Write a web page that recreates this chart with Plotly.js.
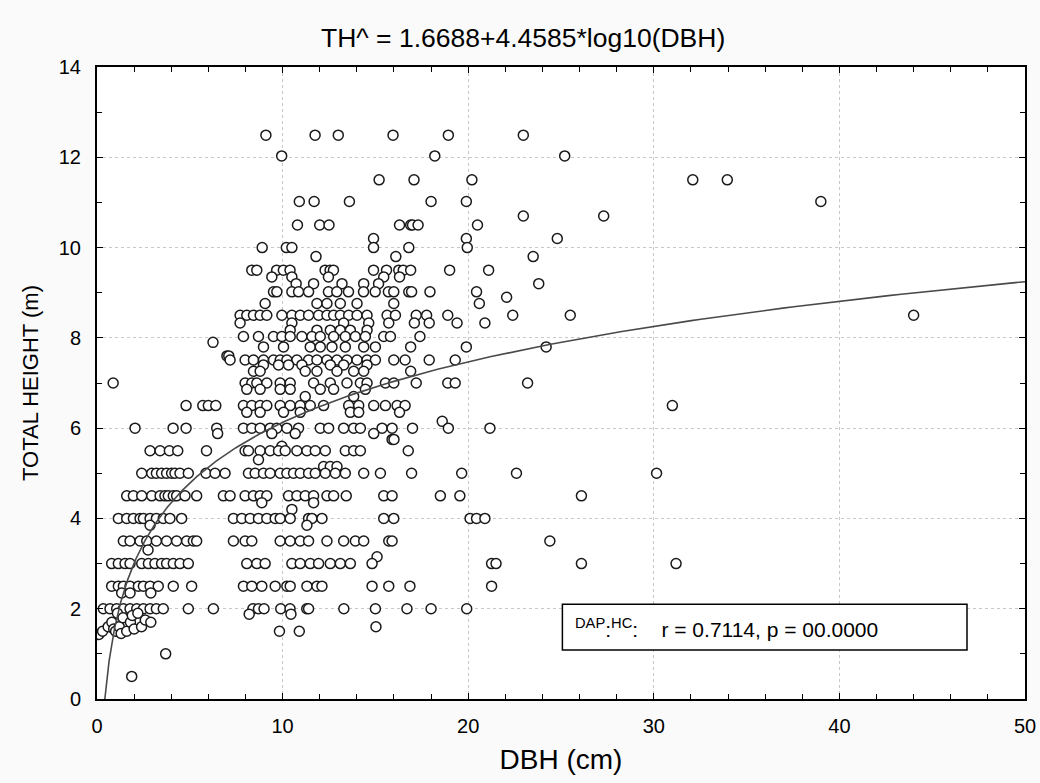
<!DOCTYPE html>
<html>
<head>
<meta charset="utf-8">
<script src="https://cdn.plot.ly/plotly-3.0.1.min.js"></script>
<style>
  html, body { margin: 0; padding: 0; background: #fafafa; }
  #chart { width: 1040px; height: 783px; }
</style>
</head>
<body>
<div id="chart"></div>
<script>
// ---- Data (DBH in cm, total height in m) ----
const heightLevels = [
  12.49, 12.03, 11.5, 11.02, 10.7, 10.5, 10.2, 10.0, 9.8, 9.5, 9.35, 9.2, 9.02, 8.9, 8.76,
  8.5, 8.33, 8.17, 8.03, 7.9, 7.8, 7.6, 7.51, 7.4, 7.26, 7.0, 6.86, 6.7, 6.5, 6.35, 6.15,
  6.0, 5.88, 5.75, 5.6, 5.5, 5.3, 5.15, 5.0, 4.5, 4.35, 4.2, 4.0, 3.85, 3.5, 3.3, 3.15,
  3.0, 2.5, 2.35, 2.0, 1.88, 1.6, 1.5, 1.0, 0.5
];
const dbhAtLevel = [
  [9.1, 11.75, 13.0, 15.95, 18.93, 22.97],
  [9.95, 18.2, 25.2],
  [15.2, 17.08, 20.2, 32.1, 33.96],
  [10.9, 11.7, 13.6, 18.0, 19.9, 39.0],
  [22.97, 27.3],
  [10.8, 12.0, 12.5, 16.3, 16.9, 17.0, 17.3, 20.5],
  [14.9, 19.9, 24.8],
  [8.9, 10.2, 10.5, 14.9, 16.8, 19.95],
  [11.8, 16.1, 23.5],
  [8.34, 8.61, 9.68, 10.04, 10.4, 12.29, 12.56, 12.74, 14.9, 15.6, 16.26, 16.5, 16.9, 19.0, 21.1],
  [9.42, 10.5, 12.47, 15.45, 16.3],
  [10.73, 11.67, 13.2, 14.37, 15.17, 23.8],
  [9.51, 9.69, 10.5, 10.86, 11.4, 12.47, 12.92, 13.55, 14.36, 14.99, 15.7, 15.99, 16.8, 16.95, 17.94, 20.45],
  [22.07],
  [9.06, 11.85, 12.39, 13.11, 14.01, 15.99, 20.6],
  [7.71, 8.07, 8.43, 8.79, 9.15, 9.96, 10.5, 10.95, 11.4, 11.94, 12.39, 12.75, 13.11, 13.56, 14.01, 14.55, 15.63, 16.08, 17.2, 17.76, 18.9, 22.4, 25.5, 44.0],
  [7.71, 10.5, 13.29, 14.64, 15.72, 17.1, 17.9, 19.4, 20.9],
  [10.41, 11.85, 12.57, 13.11, 13.65, 14.55],
  [7.89, 8.7, 9.51, 9.96, 10.41, 11.04, 11.58, 12.03, 12.75, 13.38, 13.92, 14.46, 15.45, 15.81, 17.4],
  [6.25],
  [8.97, 10.05, 11.49, 12.03, 12.66, 13.38, 14.37, 15.0, 16.9, 19.9, 24.2],
  [7.0, 7.1],
  [7.17, 7.98, 8.43, 8.97, 9.51, 9.87, 10.23, 10.77, 11.4, 11.85, 12.39, 12.93, 13.47, 14.01, 14.55, 15.0, 15.99, 16.6, 17.9, 19.3],
  [8.97, 9.78, 10.32, 11.04, 12.57, 13.29, 14.55],
  [8.43, 8.79, 11.22, 11.85, 12.93, 13.83, 14.37, 16.9],
  [0.87, 7.98, 8.34, 8.61, 9.15, 9.87, 10.41, 11.67, 12.57, 13.47, 14.19, 14.55, 15.54, 15.99, 17.2, 18.9, 19.3, 23.2],
  [8.07, 8.79, 9.87, 10.41, 12.03, 12.75, 14.46],
  [11.22, 13.83],
  [4.8, 5.7, 6.0, 6.4, 7.89, 8.34, 8.79, 9.15, 9.87, 10.41, 10.95, 11.49, 12.21, 13.56, 14.1, 14.91, 15.54, 16.17, 16.6, 31.0],
  [8.07, 8.79, 10.05, 10.95, 13.65, 14.1, 16.3],
  [18.6],
  [2.05, 4.1, 4.8, 6.45, 7.89, 8.34, 8.79, 9.33, 9.69, 10.23, 10.86, 12.03, 12.48, 13.29, 13.83, 14.19, 15.36, 15.9, 17.0, 18.93, 21.17],
  [6.5, 9.42, 10.68, 14.91],
  [15.9, 16.0],
  [9.96],
  [2.86, 3.4, 3.9, 4.35, 5.9, 7.98, 8.16, 8.79, 9.33, 9.78, 10.14, 10.77, 11.31, 11.76, 12.3, 13.38, 13.83, 14.19, 16.77],
  [8.7],
  [12.21, 12.57, 12.93],
  [2.41, 2.95, 3.2, 3.48, 3.75, 4.02, 4.2, 4.47, 4.92, 5.87, 6.36, 6.9, 8.16, 8.52, 8.97, 9.33, 9.87, 10.23, 10.59, 10.95, 11.4, 11.76, 12.3, 12.84, 13.38, 14.37, 15.27, 16.95, 19.65, 22.6, 30.15],
  [1.6, 1.96, 2.41, 2.95, 3.4, 3.66, 3.84, 4.11, 4.29, 4.74, 5.37, 6.81, 7.17, 7.98, 8.43, 8.79, 9.15, 10.32, 10.77, 11.22, 11.67, 12.39, 12.75, 13.43, 15.45, 15.9, 18.5, 19.55, 26.1],
  [8.88, 11.67],
  [10.5],
  [1.15, 1.6, 1.96, 2.32, 2.5, 2.86, 3.2, 3.57, 3.93, 4.56, 7.35, 7.8, 8.25, 8.7, 9.15, 9.6, 9.87, 10.41, 11.4, 11.58, 12.12, 15.45, 15.99, 20.1, 20.45, 20.9],
  [2.86, 11.31],
  [1.42, 1.78, 2.32, 2.68, 3.2, 3.75, 4.29, 4.83, 5.19, 5.37, 7.35, 7.98, 8.34, 9.87, 10.41, 10.95, 11.4, 12.39, 13.29, 13.92, 14.37, 15.72, 15.9, 24.4],
  [2.75],
  [15.09],
  [0.79, 1.15, 1.51, 1.78, 2.41, 2.77, 3.12, 3.48, 3.75, 4.11, 4.47, 4.92, 8.07, 8.61, 9.06, 10.5, 10.95, 11.49, 11.94, 12.57, 13.11, 13.65, 14.82, 21.26, 21.5, 26.1, 31.2],
  [0.79, 1.15, 1.42, 1.78, 2.23, 2.5, 2.86, 3.3, 4.11, 5.1, 7.89, 8.34, 8.88, 9.6, 10.23, 10.41, 11.31, 11.85, 12.12, 14.82, 15.72, 16.86, 21.26],
  [1.33, 1.78, 2.9],
  [0.34, 0.7, 1.06, 1.42, 1.78, 2.14, 2.5, 2.86, 3.2, 3.57, 4.92, 6.27, 8.4, 8.7, 9.0, 9.9, 10.4, 11.3, 11.4, 13.3, 15.0, 16.7, 18.0, 19.92],
  [8.2, 10.45],
  [15.03],
  [9.83, 10.9],
  [3.7],
  [1.87]
];
// small-tree cluster below 2 m
const clusterDbh    = [0.1, 0.3, 0.6, 0.8, 0.9, 1.0, 1.1, 1.2, 1.3, 1.4, 1.6, 1.8, 1.9, 2.0, 2.2, 2.4, 2.6, 2.9];
const clusterHeight = [1.43, 1.5, 1.6, 1.7, 1.55, 1.5, 1.9, 1.6, 1.45, 1.8, 1.5, 1.7, 1.85, 1.55, 1.9, 1.6, 1.75, 1.7];

// fitted model from the title: TH^ = a + b*log10(DBH)
const fitA = 1.6688, fitB = 4.4585;

// ---- Build traces ----
const xs = [], ys = [];
heightLevels.forEach((h, i) => dbhAtLevel[i].forEach(d => { xs.push(d); ys.push(h); }));
clusterDbh.forEach((d, i) => { xs.push(d); ys.push(clusterHeight[i]); });

const x0 = Math.pow(10, -fitA / fitB);
const curveX = [], curveY = [];
const nCurve = 300;
for (let i = 0; i <= nCurve; i++) {
  const lx = Math.log10(x0) + (Math.log10(50) - Math.log10(x0)) * i / nCurve;
  const d = Math.pow(10, lx);
  curveX.push(d);
  curveY.push(fitA + fitB * Math.log10(d));
}

const fontFam = 'Liberation Sans, Arial, Helvetica, sans-serif';

const traces = [
  {
    x: xs, y: ys, type: 'scatter', mode: 'markers',
    marker: { symbol: 'circle', size: 10, color: '#ffffff', line: { color: '#1a1a1a', width: 1.5 } },
    hoverinfo: 'x+y', showlegend: false
  },
  {
    x: curveX, y: curveY, type: 'scatter', mode: 'lines',
    line: { color: '#4a4a4a', width: 1.6 }, hoverinfo: 'skip', showlegend: false
  }
];

const axisCommon = {
  showline: true, linecolor: '#000', linewidth: 2, mirror: 'allticks',
  ticks: 'inside', ticklen: 6, tickwidth: 1, tickcolor: '#000',
  showgrid: true, gridcolor: '#c8c8c8', griddash: 'dot', gridwidth: 1,
  zeroline: false, automargin: false,
  tickfont: { family: fontFam, size: 20, color: '#000' }
};

const layout = {
  width: 1040, height: 783,
  paper_bgcolor: '#fafafa', plot_bgcolor: '#ffffff',
  margin: { l: 97, r: 15, t: 67, b: 84 },
  font: { family: fontFam, color: '#000' },
  title: {
    text: 'TH^ = 1.6688+4.4585*log10(DBH)',
    font: { family: fontFam, size: 26.5, color: '#000' },
    x: 0.503, xanchor: 'center', xref: 'container',
    y: 1 - 38 / 783, yanchor: 'middle', yref: 'container'
  },
  xaxis: Object.assign({}, axisCommon, {
    range: [0, 50], dtick: 10, tick0: 0, ticklabelstandoff: 8,
    minor: { dtick: 2, ticks: 'inside', ticklen: 5, tickcolor: '#000', showgrid: false },
    title: { text: 'DBH (cm)', font: { family: fontFam, size: 28, color: '#000' }, standoff: 13 }
  }),
  yaxis: Object.assign({}, axisCommon, {
    range: [0, 14], dtick: 2, tick0: 0, ticklabelstandoff: 10,
    minor: { dtick: 1, ticks: 'inside', ticklen: 5, tickcolor: '#000', showgrid: false },
    title: { text: 'TOTAL HEIGHT (m)', font: { family: fontFam, size: 22, color: '#000' }, standoff: 14 }
  }),
  shapes: [{
    type: 'rect', xref: 'paper', yref: 'paper', layer: 'above',
    x0: 0.5015, x1: 0.9375, y0: 0.0775, y1: 0.150,
    fillcolor: '#ffffff', line: { color: '#000', width: 1.5 }
  }],
  annotations: [{
    xref: 'paper', yref: 'paper', x: 0.513, y: 0.112, xanchor: 'left', yanchor: 'middle',
    showarrow: false, align: 'left',
    text: '<sup>DAP</sup>:<sup>HC</sup>:&nbsp;&nbsp;&nbsp;&nbsp;r = 0.7114, p = 00.0000',
    font: { family: fontFam, size: 21, color: '#000' }
  }]
};

Plotly.newPlot('chart', traces, layout, { displayModeBar: false, staticPlot: true });
</script>
</body>
</html>
